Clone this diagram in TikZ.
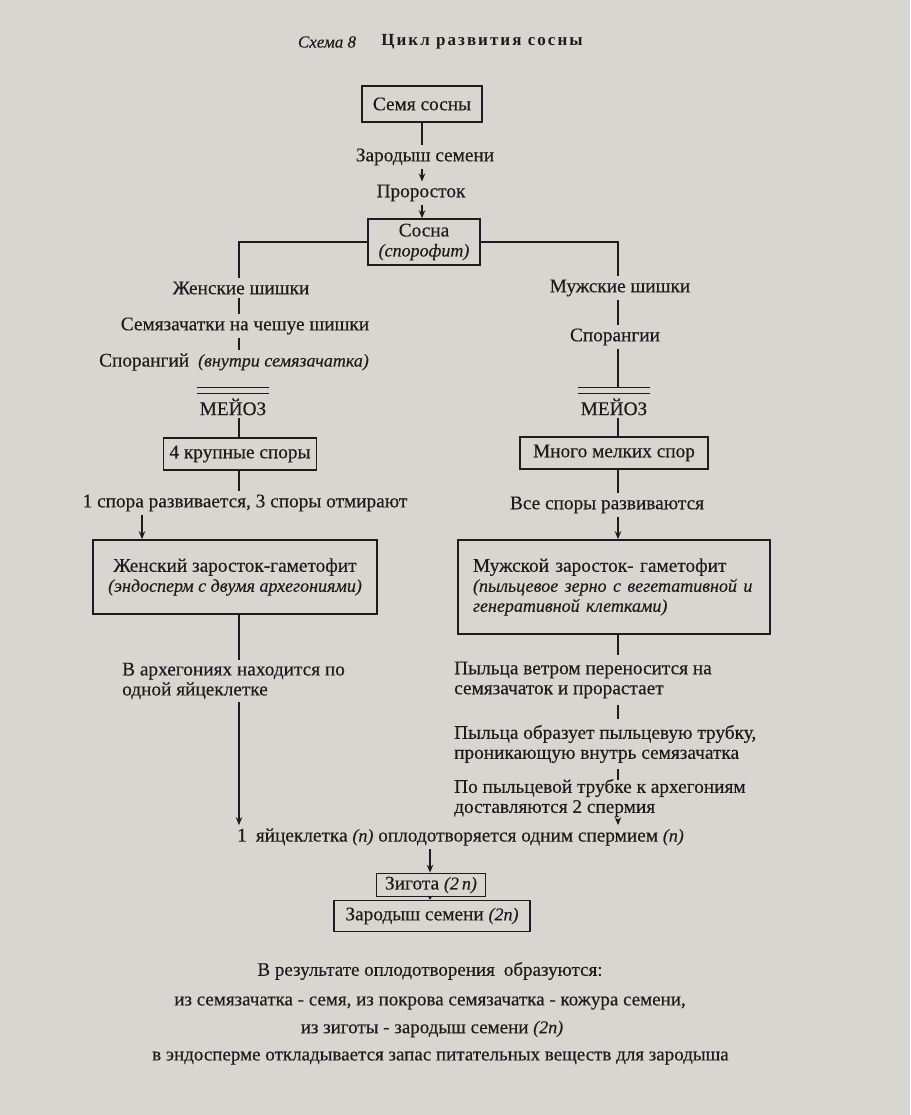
\documentclass[tikz,border=0pt]{standalone}
\usepackage{fontspec}
\setmainfont{Liberation Serif}[FakeBold=0.3]
\newfontfamily\spacedfont{Liberation Serif}[LetterSpace=12]
\usetikzlibrary{arrows.meta}
\definecolor{paper}{RGB}{216,214,208}
\definecolor{ink}{RGB}{28,28,28}
\newcommand{\itx}[1]{{\fontsize{18}{20}\selectfont\itshape #1}}
\begin{document}
\begin{tikzpicture}[x=1pt,y=-1pt,
  every node/.style={text=ink, font=\fontsize{19.3}{20}\selectfont},
  lbl/.style={inner sep=3pt},
  box/.style={draw=ink, line width=1.6pt, inner sep=3pt, align=center},
  conn/.style={draw=ink, line width=2pt},
  arr/.style={conn, -{Stealth[length=8pt,width=6.5pt]}},
  ov/.style={draw=ink, line width=1.3pt},
]
\fill[paper] (0,0) rectangle (910,1115);
\useasboundingbox (0,0) rectangle (910,1115);

% column coordinates
\coordinate (cx) at (422,0);
\coordinate (lx) at (239,0);
\coordinate (rx) at (618,0);
\coordinate (fa) at (142,0);
\coordinate (zx) at (430,0);

% title
\node[lbl, font=\fontsize{17}{20}\selectfont\itshape] (t1) at (327,42) {Схема 8};
\node[lbl, font=\fontsize{17}{20}\selectfont\spacedfont\bfseries] (t2) at (482,42) {Цикл развития сосны};

% top chain
\node[box, minimum width=120pt, minimum height=36pt] (seed) at (422,104) {Семя сосны};
\node[lbl] (zar) at (425,157) {Зародыш семени};
\node[lbl] (pro) at (421,193) {Проросток};
\node[box, minimum width=112pt, minimum height=46pt] (pine) at (424,242) {Сосна\\\itx{(спорофит)}};

\draw[conn] (cx |- seed.south) -- (cx |- zar.north);
\draw[arr] (cx |- zar.south) -- (cx |- pro.north);
\draw[arr] (cx |- pro.south) -- (cx |- pine.north);

% left column
\node[lbl] (fcones) at (241,288) {Женские шишки};
\node[lbl] (ovules) at (245,326) {Семязачатки на чешуе шишки};
\node[lbl] (fspor) at (234,362) {Спорангий\hspace{9pt}\itx{(внутри семязачатка)}};
\node[lbl] (fmei) at (233,407) {МЕЙОЗ};
\node[box, minimum width=153pt, minimum height=32pt] (fsp) at (240,454) {4 крупные споры};
\node[lbl] (fdev) at (245,503) {1 спора развивается, 3 споры отмирают};
\node[box, minimum width=284pt, minimum height=74pt] (fgam) at (235,577) {Женский заросток-гаметофит\\\itx{(эндосперм с двумя архегониями)}};
\node[lbl, align=left, anchor=west] (farch) at (119,681) {В архегониях находится по\\одной яйцеклетке};

\draw[conn] (pine.west) -| (lx |- fcones.north);
\draw[conn] (lx |- fcones.south) -- (lx |- ovules.north);
\draw[conn] (lx |- ovules.south) -- (lx |- fspor.north);
\coordinate (fov1) at ([yshift=2pt]fmei.north);
\coordinate (fov2) at ([yshift=8pt]fmei.north);
\draw[ov] (fmei.west |- fov1) -- (fmei.east |- fov1);
\draw[ov] (fmei.west |- fov2) -- (fmei.east |- fov2);
\draw[conn] (lx |- fmei.south) -- (lx |- fsp.north);
\draw[conn] (lx |- fsp.south) -- (lx |- fdev.north);
\draw[arr] (fa |- fdev.south) -- (fa |- fgam.north);
\draw[conn] (lx |- fgam.south) -- (lx |- farch.north);

% right column
\node[lbl] (mcones) at (620,288) {Мужские шишки};
\node[lbl] (mspor) at (615,337) {Спорангии};
\node[lbl] (mmei) at (614,407) {МЕЙОЗ};
\node[box, minimum width=188pt, minimum height=32pt] (msp) at (614,453) {Много мелких спор};
\node[lbl] (mdev) at (607,505) {Все споры развиваются};
\node[box, minimum width=312pt, minimum height=94pt, text width=282pt, align=left] (mgam) at (614,587) {Мужской заросток- гаметофит\\\itx{(пыльцевое зерно с вегетативной и}\\\itx{генеративной клетками)}};
\node[lbl, inner ysep=6pt, align=left, anchor=west] (mpol1) at (451,680) {Пыльца ветром переносится на\\семязачаток и прорастает};
\node[lbl, inner ysep=6pt, align=left, anchor=west] (mpol2) at (451,744) {Пыльца образует пыльцевую трубку,\\проникающую внутрь семязачатка};
\node[lbl, inner ysep=2pt, align=left, anchor=west] (mpol3) at (451,798) {По пыльцевой трубке к архегониям\\доставляются 2 спермия};

\draw[conn] (pine.east) -| (rx |- mcones.north);
\draw[conn] (rx |- mcones.south) -- (rx |- mspor.north);
\coordinate (mov1) at ([yshift=2pt]mmei.north);
\coordinate (mov2) at ([yshift=8pt]mmei.north);
\draw[conn] (rx |- mspor.south) -- (rx |- mov2);
\draw[ov] (mmei.west |- mov1) -- (mmei.east |- mov1);
\draw[ov] (mmei.west |- mov2) -- (mmei.east |- mov2);
\draw[conn] (rx |- mmei.south) -- (rx |- msp.north);
\draw[conn] (rx |- msp.south) -- (rx |- mdev.north);
\draw[arr] (rx |- mdev.south) -- (rx |- mgam.north);
\draw[conn] (rx |- mgam.south) -- (rx |- mpol1.north);
\draw[conn] (rx |- mpol1.south) -- (rx |- mpol2.north);
\draw[conn] (rx |- mpol2.south) -- ([yshift=-3pt]rx |- mpol3.north);

% fertilisation
\node[lbl, anchor=west] (fert) at (234,837) {1\hspace{9pt}яйцеклетка \itx{(n)} оплодотворяется одним спермием \itx{(n)}};
\node[box, minimum width=109pt, minimum height=23pt, inner sep=1pt] (zyg) at (431,885) {Зигота \itx{(2\,n)}};
\node[box, minimum width=196pt, minimum height=31pt] (emb) at (432,916) {Зародыш семени \itx{(2n)}};

\draw[arr] (lx |- farch.south) -- (lx |- fert.north);
\draw[arr] (rx |- mpol3.south) -- (rx |- fert.north);
\draw[arr] (zx |- fert.south) -- (zx |- zyg.north);
\draw[conn, -{Stealth[length=4pt,width=5pt]}] (zx |- zyg.south) -- (zx |- emb.north);

% results
\node[lbl, font=\fontsize{19}{20}\selectfont] (r1) at (430,971) {В результате оплодотворения\hspace{9pt}образуются:};
\node[lbl, font=\fontsize{19}{20}\selectfont] (r2) at (430,1003) {из семязачатка - семя, из покрова семязачатка - кожура семени,};
\node[lbl, font=\fontsize{19}{20}\selectfont] (r3) at (432,1029) {из зиготы - зародыш семени \itx{(2n)}};
\node[lbl, font=\fontsize{19}{20}\selectfont, anchor=west] (r4) at (149,1058) {в эндосперме откладывается запас питательных веществ для зародыша};
\end{tikzpicture}
\end{document}
